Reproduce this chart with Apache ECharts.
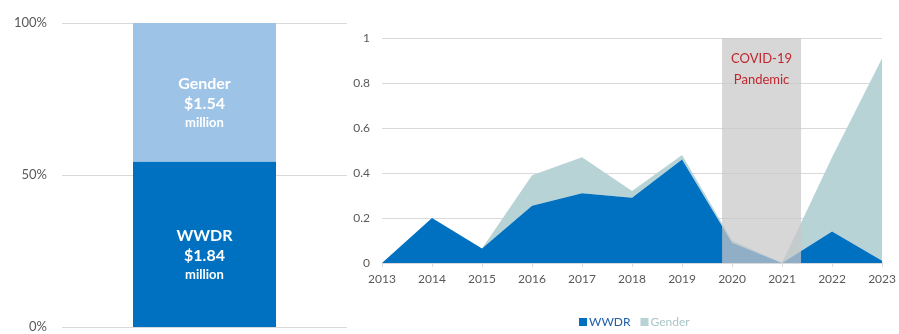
<!DOCTYPE html>
<html>
<head>
<meta charset="utf-8">
<script src="https://cdn.jsdelivr.net/npm/echarts@6/dist/echarts.min.js"></script>
<style>
  html, body { margin: 0; padding: 0; background: #fff; }
  #chart { width: 899px; height: 334px; }
</style>
</head>
<body>
<div id="chart"></div>
<script>
// Totals by programme (US$ million) for the 100% bar
const programmes = ['WWDR', 'Gender'];
const totalsMillion = [1.84, 1.54];

// Annual amounts, stacked area
const years = [2013, 2014, 2015, 2016, 2017, 2018, 2019, 2020, 2021, 2022, 2023];
const wwdrAnnual = [0, 0.20, 0.065, 0.255, 0.31, 0.29, 0.46, 0.09, 0, 0.14, 0.01];
const genderAnnual = [0, 0, 0, 0.135, 0.16, 0.03, 0.02, 0.01, 0, 0.33, 0.90];

// Pandemic period shading (in years)
const covidSpan = [2019.8, 2021.38];
const covidLabel = 'COVID-19\nPandemic';

const BLUE = '#0070c0';
const LIGHT_BLUE = '#9dc3e6';
const TEAL = '#b7d3d6';
const GRID = '#d9d9d9';
const AXIS_TEXT = '#595959';
const FONT = 'Lato, "Open Sans", sans-serif';

const total = totalsMillion.reduce((a, b) => a + b, 0);
const shares = totalsMillion.map(v => v / total);

function barLabel(name, value) {
  return '{n|' + name + '}\n{v|$' + value.toFixed(2) + '}\n{m|million}';
}
const barRich = {
  n: { color: '#fff', fontSize: 16, fontWeight: 'bold', fontFamily: FONT, lineHeight: 21 },
  v: { color: '#fff', fontSize: 16, fontWeight: 'bold', fontFamily: FONT, lineHeight: 20 },
  m: { color: '#fff', fontSize: 13, fontWeight: 'bold', fontFamily: FONT, lineHeight: 17 }
};

const chart = echarts.init(document.getElementById('chart'), null, { renderer: 'canvas' });

chart.setOption({
  animation: false,
  textStyle: { fontFamily: FONT },
  grid: [
    { left: 62, top: 23, width: 285, height: 304 },
    { left: 382, top: 38, right: 14, bottom: 71 }
  ],
  legend: {
    left: 574,
    top: 311,
    icon: 'rect',
    itemWidth: 8,
    itemHeight: 8,
    itemGap: 10,
    data: [
      { name: 'WWDR', textStyle: { color: '#1f5fa8' } },
      { name: 'Gender', textStyle: { color: '#a9c6c9' } }
    ],
    textStyle: { fontSize: 12, fontFamily: FONT, padding: [0, 0, 0, -3] }
  },
  xAxis: [
    {
      gridIndex: 0, type: 'category', data: ['Total'],
      show: false
    },
    {
      gridIndex: 1, type: 'category', data: years, boundaryGap: false,
      axisLine: { show: true, lineStyle: { color: GRID } },
      axisTick: { show: true, length: 4, lineStyle: { color: GRID } },
      splitLine: { show: false },
      axisLabel: { color: AXIS_TEXT, fontSize: 12, margin: 10 }
    },
    {
      // continuous year scale for the shaded period
      gridIndex: 1, type: 'value', min: 2013, max: 2023, interval: 1,
      show: false
    }
  ],
  yAxis: [
    {
      gridIndex: 0, type: 'value', min: 0, max: 1, interval: 0.5,
      axisLine: { show: false }, axisTick: { show: false },
      splitLine: { lineStyle: { color: GRID } },
      axisLabel: { color: AXIS_TEXT, fontSize: 13, margin: 15,
        formatter: v => Math.round(v * 100) + '%' }
    },
    {
      gridIndex: 1, type: 'value', min: 0, max: 1, interval: 0.2,
      axisLine: { show: false }, axisTick: { show: false },
      splitLine: { lineStyle: { color: GRID } },
      axisLabel: { color: AXIS_TEXT, fontSize: 12, margin: 12 }
    }
  ],
  series: [
    {
      name: 'WWDR total', type: 'bar', xAxisIndex: 0, yAxisIndex: 0,
      stack: 'share', barWidth: 143,
      itemStyle: { color: BLUE },
      data: [shares[0]],
      label: { show: true, position: 'inside', offset: [0, 10],
        formatter: () => barLabel(programmes[0], totalsMillion[0]), rich: barRich }
    },
    {
      name: 'Gender total', type: 'bar', xAxisIndex: 0, yAxisIndex: 0,
      stack: 'share', barWidth: 143,
      itemStyle: { color: LIGHT_BLUE },
      data: [shares[1]],
      label: { show: true, position: 'inside', offset: [0, 10],
        formatter: () => barLabel(programmes[1], totalsMillion[1]), rich: barRich }
    },
    {
      name: 'WWDR', type: 'line', xAxisIndex: 1, yAxisIndex: 1,
      stack: 'annual', symbol: 'none', z: 3,
      lineStyle: { width: 0 },
      itemStyle: { color: BLUE },
      areaStyle: { color: BLUE, opacity: 1 },
      data: wwdrAnnual
    },
    {
      name: 'Gender', type: 'line', xAxisIndex: 1, yAxisIndex: 1,
      stack: 'annual', symbol: 'none', z: 2,
      lineStyle: { width: 0 },
      itemStyle: { color: TEAL },
      areaStyle: { color: TEAL, opacity: 1 },
      data: genderAnnual
    },
    {
      name: 'Pandemic', type: 'line', xAxisIndex: 2, yAxisIndex: 1,
      z: 6, symbol: 'none', silent: true,
      lineStyle: { width: 0 },
      data: [],
      markArea: {
        silent: true,
        z: 10,
        itemStyle: { color: 'rgba(200,200,200,0.72)' },
        label: {
          show: true, position: 'insideTop', distance: 10,
          color: '#c0262d', fontSize: 13, lineHeight: 21, fontFamily: FONT
        },
        data: [[
          { name: covidLabel, xAxis: covidSpan[0], yAxis: 0 },
          { xAxis: covidSpan[1], yAxis: 1 }
        ]]
      }
    }
  ]
});
</script>
</body>
</html>
